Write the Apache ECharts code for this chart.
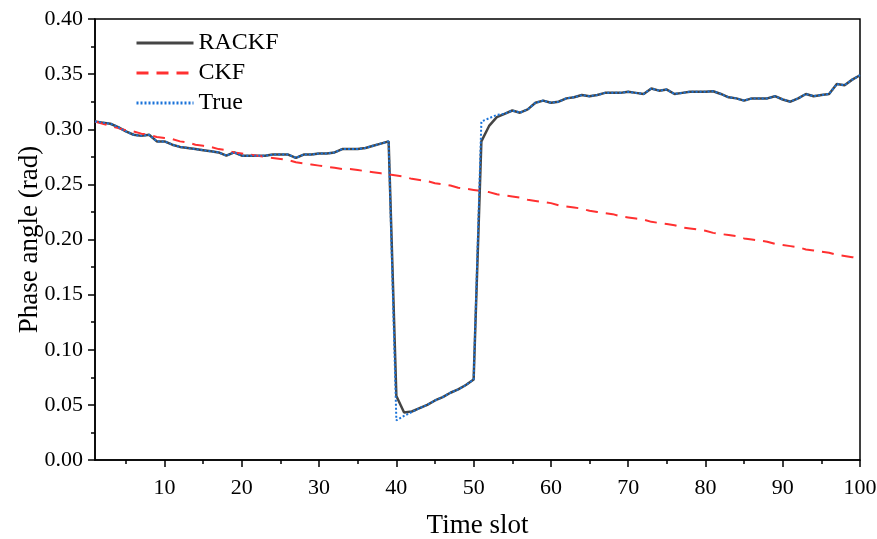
<!DOCTYPE html>
<html>
<head>
<meta charset="utf-8">
<script src="https://cdn.jsdelivr.net/npm/echarts@6/dist/echarts.min.js"></script>
<style>
  html, body { margin: 0; padding: 0; background: #fff; }
  #chart { width: 877px; height: 539px; }
</style>
</head>
<body>
<div id="chart"></div>
<script>
// time slots 1..100
const slots = [];
for (let i = 1; i <= 100; i++) slots.push(i);

const rackf = [
  0.307, 0.306, 0.305, 0.302, 0.298, 0.295, 0.294, 0.295, 0.289, 0.289,
  0.286, 0.284, 0.283, 0.282, 0.281, 0.280, 0.279, 0.276, 0.279, 0.276,
  0.276, 0.276, 0.276, 0.277, 0.277, 0.277, 0.274, 0.277, 0.277, 0.278,
  0.278, 0.279, 0.282, 0.282, 0.282, 0.283, 0.285, 0.287, 0.289, 0.058,
  0.043, 0.044, 0.047, 0.050, 0.054, 0.057, 0.061, 0.064, 0.068, 0.073,
  0.289, 0.303, 0.311, 0.314, 0.317, 0.315, 0.318, 0.324, 0.326, 0.324,
  0.325, 0.328, 0.329, 0.331, 0.330, 0.331, 0.333, 0.333, 0.333, 0.334,
  0.333, 0.332, 0.337, 0.335, 0.336, 0.332, 0.333, 0.334, 0.334, 0.334,
  0.3345, 0.332, 0.329, 0.328, 0.326, 0.328, 0.328, 0.328, 0.330, 0.327,
  0.325, 0.328, 0.332, 0.330, 0.331, 0.332, 0.341, 0.340, 0.345, 0.349
];

const ckf = [
  0.307, 0.305, 0.303, 0.301, 0.299, 0.298, 0.296, 0.295, 0.293, 0.292,
  0.291, 0.289, 0.288, 0.286, 0.285, 0.284, 0.282, 0.281, 0.279, 0.278,
  0.277, 0.276, 0.275, 0.274, 0.273, 0.272, 0.270, 0.269, 0.268, 0.267,
  0.266, 0.265, 0.264, 0.264, 0.263, 0.262, 0.261, 0.260, 0.259, 0.258,
  0.257, 0.255, 0.254, 0.253, 0.251, 0.250, 0.249, 0.247, 0.246, 0.245,
  0.244, 0.243, 0.241, 0.240, 0.239, 0.238, 0.236, 0.235, 0.234, 0.233,
  0.231, 0.230, 0.229, 0.228, 0.226, 0.225, 0.224, 0.223, 0.221, 0.220,
  0.219, 0.218, 0.216, 0.215, 0.214, 0.213, 0.211, 0.210, 0.209, 0.208,
  0.206, 0.205, 0.204, 0.203, 0.201, 0.200, 0.199, 0.198, 0.196, 0.195,
  0.194, 0.193, 0.191, 0.190, 0.189, 0.188, 0.186, 0.185, 0.184, 0.183
];

const truth = [
  0.307, 0.306, 0.305, 0.302, 0.298, 0.295, 0.294, 0.295, 0.289, 0.289,
  0.286, 0.284, 0.283, 0.282, 0.281, 0.280, 0.279, 0.276, 0.279, 0.276,
  0.276, 0.276, 0.276, 0.277, 0.277, 0.277, 0.274, 0.277, 0.277, 0.278,
  0.278, 0.279, 0.282, 0.282, 0.282, 0.283, 0.285, 0.287, 0.289, 0.036,
  0.040, 0.0435, 0.047, 0.050, 0.054, 0.057, 0.061, 0.064, 0.068, 0.073,
  0.307, 0.310, 0.313, 0.314, 0.317, 0.315, 0.318, 0.324, 0.326, 0.324,
  0.325, 0.328, 0.329, 0.331, 0.330, 0.331, 0.333, 0.333, 0.333, 0.334,
  0.333, 0.332, 0.337, 0.335, 0.336, 0.332, 0.333, 0.334, 0.334, 0.334,
  0.3345, 0.332, 0.329, 0.328, 0.326, 0.328, 0.328, 0.328, 0.330, 0.327,
  0.325, 0.328, 0.332, 0.330, 0.331, 0.332, 0.341, 0.340, 0.345, 0.349
];

const xMajor = [10, 20, 30, 40, 50, 60, 70, 80, 90, 100];
const xMinor = [5, 15, 25, 35, 45, 55, 65, 75, 85, 95];

const pair = arr => slots.map((t, i) => [t, arr[i]]);
const FONT = "'Liberation Serif', 'DejaVu Serif', serif";

const chart = echarts.init(document.getElementById("chart"), null, { renderer: "canvas" });

chart.setOption({
  animation: false,
  backgroundColor: "#fff",
  textStyle: { fontFamily: FONT, color: "#000" },
  grid: {
    left: 95, right: 17, top: 19, bottom: 79,
    outerBoundsMode: "none", containLabel: false,
    show: true, borderColor: "#000", borderWidth: 1.5, backgroundColor: "transparent"
  },
  legend: {
    orient: "vertical",
    left: 130, top: 26,
    itemWidth: 57, itemHeight: 20, itemGap: 6,
    itemStyle: { opacity: 0 },
    lineStyle: { width: 3 },
    textStyle: { fontFamily: FONT, fontSize: 24, color: "#000" },
    data: ["RACKF", "CKF", "True"]
  },
  xAxis: [
    {
      type: "value", min: 1, max: 100,
      name: "Time slot", nameLocation: "middle", nameGap: 52, nameMoveOverlap: false,
      nameTextStyle: { fontFamily: FONT, fontSize: 27, color: "#000" },
      axisLine: { show: true, lineStyle: { color: "#000", width: 1.5 } },
      axisTick: { show: true, length: 7, customValues: xMajor, lineStyle: { color: "#000", width: 1.5 } },
      axisLabel: { customValues: xMajor, margin: 17, fontFamily: FONT, fontSize: 22, color: "#000" },
      splitLine: { show: false }
    },
    {
      type: "value", min: 1, max: 100, position: "bottom",
      axisLine: { show: false },
      axisTick: { show: true, length: 4, customValues: xMinor, lineStyle: { color: "#000", width: 1.5 } },
      axisLabel: { show: false },
      splitLine: { show: false }
    }
  ],
  yAxis: {
    type: "value", min: 0, max: 0.4, interval: 0.05,
    name: "Phase angle (rad)", nameLocation: "middle", nameGap: 52, nameMoveOverlap: false,
    nameTextStyle: { fontFamily: FONT, fontSize: 27, color: "#000" },
    axisLine: { show: true, lineStyle: { color: "#000", width: 1.5 } },
    axisTick: { show: true, length: 7, lineStyle: { color: "#000", width: 1.5 } },
    minorTick: { show: true, splitNumber: 2, length: 4, lineStyle: { color: "#000", width: 1.5 } },
    axisLabel: { margin: 12, fontFamily: FONT, fontSize: 22, color: "#000", formatter: v => v.toFixed(2) },
    splitLine: { show: false }
  },
  series: [
    {
      name: "RACKF", type: "line", data: pair(rackf),
      symbol: "none", lineStyle: { color: "#454545", width: 2.5 }, itemStyle: { color: "#454545" }, z: 2
    },
    {
      name: "CKF", type: "line", data: pair(ckf),
      symbol: "none", lineStyle: { color: "#ff3030", width: 2, type: [12, 8] }, itemStyle: { color: "#ff3030" }, z: 3
    },
    {
      name: "True", type: "line", data: pair(truth),
      symbol: "none", lineStyle: { color: "#1a73d9", width: 2, type: [2, 2] }, itemStyle: { color: "#1a73d9" }, z: 4
    }
  ]
});
</script>
</body>
</html>
